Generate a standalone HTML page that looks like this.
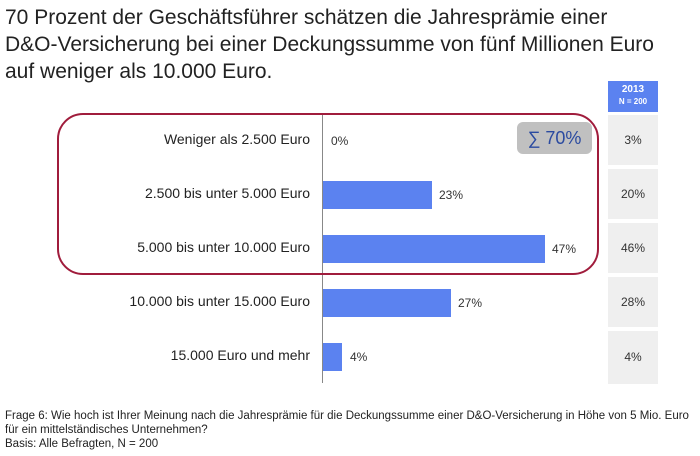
<!DOCTYPE html>
<html><head><style>
body{margin:0;width:700px;height:456px;background:#fff;font-family:"Liberation Sans",sans-serif;position:relative;overflow:hidden}
.a{position:absolute}
.t{left:5px;top:4px;font-size:21px;line-height:27px;color:#222}
.lab{right:390px;font-size:14px;color:#222;text-align:right;white-space:nowrap}
.bar{left:323px;height:28px;background:#5b82f0}
.pct{font-size:12px;color:#333}
.cell{left:608px;width:50px;height:50px;background:#efefef;font-size:12px;color:#333;text-align:center;line-height:50px}
.f{left:5px;font-size:11.5px;color:#222}
</style></head><body>
<div class="a t">70 Prozent der Geschäftsführer schätzen die Jahresprämie einer<br>D&amp;O-Versicherung bei einer Deckungssumme von fünf Millionen Euro<br>auf weniger als 10.000 Euro.</div>
<div class="a" style="left:608px;top:81px;width:50px;height:31px;background:#5b82f0;color:#fff;font-weight:bold;text-align:center;font-size:10px;line-height:12px;padding-top:3px;box-sizing:border-box">2013<br><span style="font-size:8px">N = 200</span></div>
<div class="a cell" style="top:115px">3%</div>
<div class="a cell" style="top:169px">20%</div>
<div class="a cell" style="top:223px">46%</div>
<div class="a cell" style="top:277px">28%</div>
<div class="a cell" style="top:331px;height:53px;line-height:53px">4%</div>
<div class="a" style="left:322px;top:115px;width:1px;height:268px;background:#888"></div>
<div class="a" style="left:57px;top:113px;width:538px;height:158px;border:2px solid #a01c3c;border-radius:26px"></div>
<div class="a" style="left:517px;top:122px;width:75px;height:32px;background:#c0c0c0;border-radius:6px;color:#2a4aa0;font-size:18px;text-align:center;line-height:32px">∑ 70%</div>
<div class="a lab" style="top:131px">Weniger als 2.500 Euro</div>
<div class="a lab" style="top:185px">2.500 bis unter 5.000 Euro</div>
<div class="a lab" style="top:239px">5.000 bis unter 10.000 Euro</div>
<div class="a lab" style="top:293px">10.000 bis unter 15.000 Euro</div>
<div class="a lab" style="top:347px">15.000 Euro und mehr</div>
<div class="a pct" style="left:331px;top:134px">0%</div>
<div class="a bar" style="top:181px;width:109px"></div><div class="a pct" style="left:439px;top:188px">23%</div>
<div class="a bar" style="top:235px;width:222px"></div><div class="a pct" style="left:552px;top:242px">47%</div>
<div class="a bar" style="top:289px;width:128px"></div><div class="a pct" style="left:458px;top:296px">27%</div>
<div class="a bar" style="top:343px;width:19px"></div><div class="a pct" style="left:350px;top:350px">4%</div>
<div class="a f" style="top:409px;line-height:14px">Frage 6: Wie hoch ist Ihrer Meinung nach die Jahresprämie für die Deckungssumme einer D&amp;O-Versicherung in Höhe von 5 Mio. Euro<br>für ein mittelständisches Unternehmen?<br>Basis: Alle Befragten, N = 200</div>
</body></html>
